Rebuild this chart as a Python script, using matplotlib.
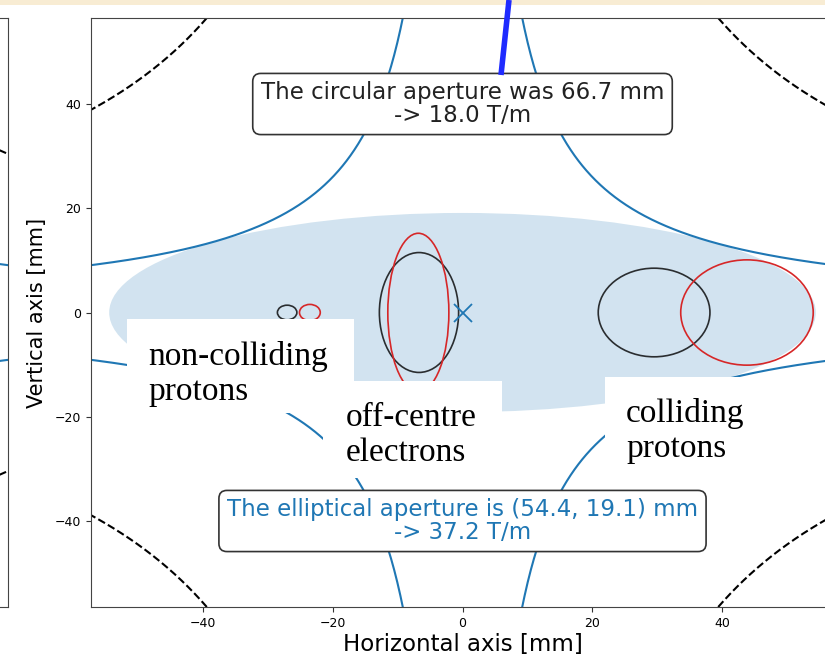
import numpy as np
import matplotlib.pyplot as plt
from matplotlib.patches import Ellipse, Rectangle
from matplotlib.lines import Line2D

# Apertures [mm] and the gradients they allow [T/m]
circ_radius = 66.7
circ_gradient = 18.0
ell_half_axes = [54.4, 19.1]
ell_gradient = 37.2

# Beam envelopes: centre x, half-width, half-height [mm]
beam_a_x = [-27.0, -6.7, 29.5]
beam_a_w = [1.5, 6.1, 8.6]
beam_a_h = [1.4, 11.5, 8.5]
beam_b_x = [-23.5, -6.8, 43.8]
beam_b_w = [1.6, 4.7, 10.2]
beam_b_h = [1.55, 15.2, 10.1]

# Pole constant of the dashed curves in the neighbouring panel [mm^2]
side_dash_c = 1740.0

slide_labels = ['non-colliding\nprotons', 'off-centre\nelectrons', 'colliding\nprotons']
# left edge and baseline of the last line, in pixels
slide_label_pos = [(148, 400), (346, 461), (626, 457)]
# white cut-outs laid over the plot: x0, y0, x1, y1 in pixels
slide_boxes = [(127, 319, 354, 413), (323, 381, 502, 478), (605, 377, 830, 480)]

XLIM = 57.2
YLIM = 56.5
W, H = 825, 663


def fx(px):
    return px / W


def fy(py):
    return 1 - py / H


def pole_lines(ax, c, **kw):
    # hyperbolic pole profile x*y = +-c, one branch per quadrant
    x = np.linspace(c / YLIM, XLIM, 400)
    for sx in (1, -1):
        for sy in (1, -1):
            ax.plot(sx * x, sy * c / x, **kw)


fig = plt.figure(figsize=(W / 100, H / 100), dpi=100)

c_circ = circ_radius ** 2 / 2
c_ell = ell_half_axes[0] * ell_half_axes[1] / 2

# neighbouring panel, mostly outside the frame
side = fig.add_axes([fx(-735), fy(607), 743 / W, 589 / H])
pole_lines(side, c_ell, color='tab:blue', lw=1.5)
pole_lines(side, side_dash_c, color='k', ls='--', lw=1.5)
side.set_xlim(-XLIM, XLIM)
side.set_ylim(-YLIM, YLIM)
side.set_xticks([])
side.set_yticks([])

ax = fig.add_axes([fx(91), fy(607), (834 - 91) / W, (607 - 18) / H])
ax.add_patch(Ellipse((0, 0), 2 * ell_half_axes[0], 2 * ell_half_axes[1],
                     color='tab:blue', alpha=0.2, lw=0))
pole_lines(ax, c_circ, color='k', ls='--', lw=1.5)
pole_lines(ax, c_ell, color='tab:blue', lw=1.5)

for x, w, h in zip(beam_a_x, beam_a_w, beam_a_h):
    ax.add_patch(Ellipse((x, 0), 2 * w, 2 * h, fill=False, ec='k', alpha=0.8, lw=1.2))
for x, w, h in zip(beam_b_x, beam_b_w, beam_b_h):
    ax.add_patch(Ellipse((x, 0), 2 * w, 2 * h, fill=False, ec='tab:red', lw=1.2))
ax.plot(0, 0, 'x', color='tab:blue', ms=13, mew=1.3)

box = dict(boxstyle='round,pad=0.35', fc='white', ec='#333333', lw=1.2)
ax.text(0, 40, f'The circular aperture was {circ_radius} mm\n-> {circ_gradient:.1f} T/m',
        ha='center', va='center', fontsize=16.5, color='#222222', bbox=box,
        linespacing=0.95, zorder=5)
ax.text(0, -40, f'The elliptical aperture is ({ell_half_axes[0]}, {ell_half_axes[1]}) mm\n'
        f'-> {ell_gradient:.1f} T/m',
        ha='center', va='center', fontsize=16.5, color='tab:blue', bbox=box,
        linespacing=0.95, zorder=5)

ax.set_xlim(-XLIM, XLIM)
ax.set_ylim(-YLIM, YLIM)
ax.set_xticks([-40, -20, 0, 20, 40])
ax.set_yticks([-40, -20, 0, 20, 40])
ax.tick_params(labelsize=9, color='#333333')
for s in ax.spines.values():
    s.set_color('#444444')
for s in side.spines.values():
    s.set_color('#444444')
ax.set_xlabel('Horizontal axis [mm]', fontsize=16.5, labelpad=2)
ax.set_ylabel('Vertical axis [mm]', fontsize=15, labelpad=6)

# slide overlays: strip at the top, pointer line and the white label boxes
fig.add_artist(Rectangle((0, fy(5)), 1, 5 / H, color='#f8ecd3', lw=0, transform=fig.transFigure))
fig.add_artist(Line2D([fx(509), fx(501)], [fy(0), fy(75)], color='#1f2bff', lw=4,
                      solid_capstyle='butt', transform=fig.transFigure))
for x0, y0, x1, y1 in slide_boxes:
    fig.add_artist(Rectangle((fx(x0), fy(y1)), (x1 - x0) / W, (y1 - y0) / H,
                             color='white', lw=0, transform=fig.transFigure))
for label, (x, y) in zip(slide_labels, slide_label_pos):
    fig.text(fx(x), fy(y), label, family='Liberation Serif', fontsize=24,
             ha='left', va='baseline', linespacing=1.2, zorder=3)

fig.savefig('out.png', dpi=100)
